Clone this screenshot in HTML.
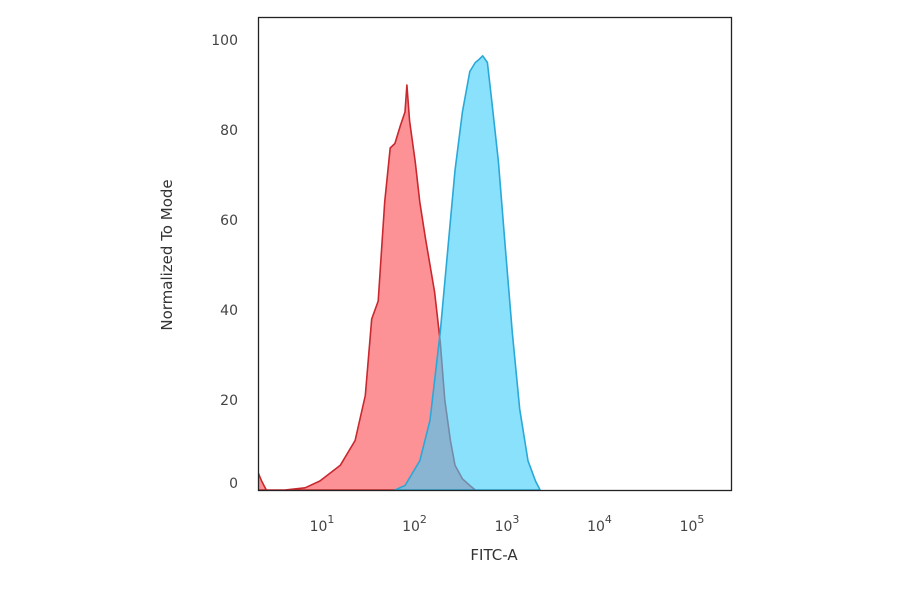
<!DOCTYPE html>
<html><head><meta charset="utf-8"><style>
html,body{margin:0;padding:0;background:#fff;}
svg{display:block;font-family:"DejaVu Sans","Liberation Sans",sans-serif;}
</style></head><body>
<svg id="chart" width="900" height="594" viewBox="0 0 900 594">
<g id="plot"></g>
<rect x="258.5" y="17.5" width="473" height="473" fill="none" stroke="#222" stroke-width="1.3"/>
<g id="yticks"></g>
<g id="xticks"></g>
<text x="172" y="255" transform="rotate(-90 172 255)" text-anchor="middle" font-size="15" fill="#333">Normalized To Mode</text>
<text x="494" y="560" text-anchor="middle" font-size="15" fill="#333">FITC-A</text>
</svg>
<script>
// data: log10 intensity positions and normalized counts
const redLog = [0.34,0.38,0.43,0.63,0.85,1.01,1.23,1.39,1.50,1.57,1.64,1.71,1.77,1.82,1.88,1.93,1.95,1.98,2.04,2.09,2.15,2.20,2.25,2.31,2.36,2.42,2.47,2.55,2.63,2.69];
const redVal = [4,2,0,0,0.5,2,5.5,11,21,38,42,64,76,77,81,84,90,82,73,64,56,50,44,33,20,11,5.5,2.5,1,0];
const blueLog = [1.82,1.93,2.09,2.20,2.31,2.39,2.47,2.55,2.63,2.69,2.72,2.77,2.82,2.87,2.94,3.01,3.09,3.17,3.26,3.34,3.39];
const blueVal = [0,1,6.5,15.5,35,53,71,84,93,95,95.5,96.5,95,86,73,55,35,18,6.5,2,0];
const yTicks = [0,20,40,60,80,100];
const xDecades = [1,2,3,4,5];

const NS="http://www.w3.org/2000/svg";
function xs(l){return 319+(l-1)*92.5;}
function ys(v){return 490-4.5*v;}
const svg=document.getElementById('chart');
const plot=document.getElementById('plot');
const clip=document.createElementNS(NS,'clipPath');clip.id='pc';
const cr=document.createElementNS(NS,'rect');cr.setAttribute('x',258.5);cr.setAttribute('y',17.5);cr.setAttribute('width',473);cr.setAttribute('height',473);
clip.appendChild(cr);svg.insertBefore(clip,svg.firstChild);
plot.setAttribute('clip-path','url(#pc)');
function area(L,V,fill,stroke,name){
  let d='M'+xs(L[0])+','+ys(0);
  for(let i=0;i<L.length;i++)d+=' L'+xs(L[i]).toFixed(1)+','+ys(V[i]).toFixed(1);
  d+=' L'+xs(L[L.length-1])+','+ys(0)+' Z';
  const p=document.createElementNS(NS,'path');
  p.setAttribute('d',d);p.setAttribute('fill',fill);p.setAttribute('stroke',stroke);p.setAttribute('stroke-width','1.6');p.setAttribute('stroke-linejoin','round');
  
  
  plot.appendChild(p);
}
area(redLog,redVal,'rgba(252,110,115,0.75)','#c8282e','red-histogram');
area(blueLog,blueVal,'rgba(60,205,250,0.6)','#2aa8d8','blue-histogram');
const yt=document.getElementById('yticks');
yTicks.forEach(v=>{
  const t=document.createElementNS(NS,'text');
  t.setAttribute('x',238);t.setAttribute('y',v===0?ys(v)-2:ys(v)+5);t.setAttribute('text-anchor','end');t.setAttribute('font-size','14');t.setAttribute('fill','#444');
  t.textContent=v;
  
  
  yt.appendChild(t);
});
const xt=document.getElementById('xticks');
xDecades.forEach(d=>{
  const t=document.createElementNS(NS,'text');
  t.setAttribute('x',xs(d)+3);t.setAttribute('y',531);t.setAttribute('text-anchor','middle');t.setAttribute('font-size','14');t.setAttribute('fill','#444');
  t.textContent='10';
  const s=document.createElementNS(NS,'tspan');s.setAttribute('dy','-8');s.setAttribute('font-size','11');s.textContent=d;
  t.appendChild(s);
  
  
  xt.appendChild(t);
});
</script>
</body></html>
